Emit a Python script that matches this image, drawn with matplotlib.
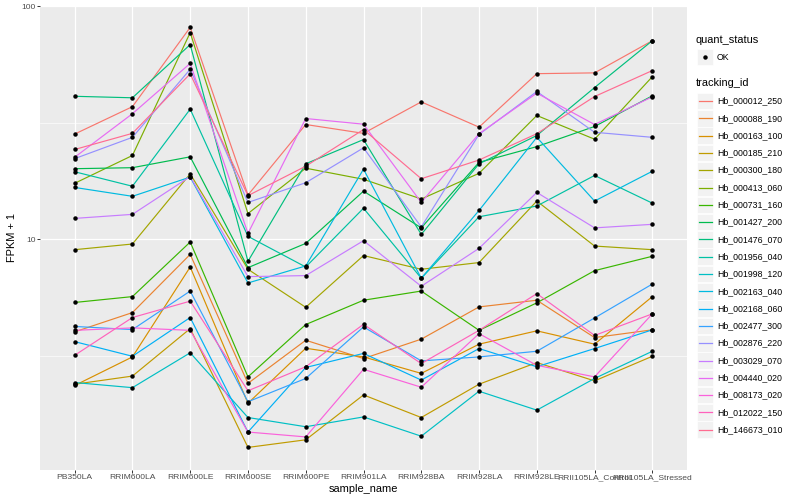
import matplotlib
matplotlib.use('Agg')
import matplotlib.pyplot as plt
from matplotlib.lines import Line2D
from matplotlib.patches import Rectangle
from matplotlib.ticker import FixedLocator, NullFormatter

plt.rcParams['font.family'] = ['Liberation Sans', 'DejaVu Sans']

# x categories
samples = ['PB350LA', 'RRIM600LA', 'RRIM600LE', 'RRIM600SE', 'RRIM600PE', 'RRIM901LA',
           'RRIM928BA', 'RRIM928LA', 'RRIM928LE', 'RRII105LA_Control', 'RRII105LA_Stressed']

tracking_ids = ['Hb_000012_250', 'Hb_000088_190', 'Hb_000163_100', 'Hb_000185_210',
                'Hb_000300_180', 'Hb_000413_060', 'Hb_000731_160', 'Hb_001427_200',
                'Hb_001476_070', 'Hb_001956_040', 'Hb_001998_120', 'Hb_002163_040',
                'Hb_002168_060', 'Hb_002477_300', 'Hb_002876_220', 'Hb_003029_070',
                'Hb_004440_020', 'Hb_008173_020', 'Hb_012022_150', 'Hb_146673_010']

# FPKM + 1 values, one list per tracking_id
hb_000012_250 = [28.3, 37.1, 81.2, 15.5, 31.1, 28.5, 38.9, 30.3, 51.4, 51.8, 71.2]
hb_000088_190 = [4.01, 4.85, 8.62, 2.41, 3.69, 3.08, 3.73, 5.13, 5.48, 3.79, 4.09]
hb_000163_100 = [2.36, 3.13, 7.61, 1.98, 3.41, 3.13, 2.66, 3.55, 4.05, 3.55, 5.68]
hb_000185_210 = [2.39, 2.59, 4.14, 1.28, 1.38, 2.15, 1.72, 2.39, 2.96, 2.47, 3.15]
hb_000300_180 = [9.03, 9.55, 19.1, 7.44, 5.11, 8.52, 7.44, 7.95, 14.6, 9.36, 9.03]
hb_000413_060 = [17.4, 22.9, 77.1, 12.9, 20.2, 18.1, 14.9, 19.2, 34.0, 26.9, 49.9]
hb_000731_160 = [5.36, 5.68, 9.74, 2.57, 4.31, 5.48, 6.00, 4.07, 5.34, 7.34, 8.46]
hb_001427_200 = [20.1, 20.3, 22.6, 7.56, 9.61, 16.1, 11.2, 21.4, 25.0, 30.5, 41.3]
hb_001476_070 = [41.1, 40.5, 68.5, 8.05, 21.1, 26.8, 10.5, 21.1, 27.9, 44.8, 71.2]
hb_001956_040 = [19.5, 16.9, 36.2, 10.3, 7.61, 13.6, 6.81, 12.5, 13.9, 18.8, 14.3]
hb_001998_120 = [2.43, 2.31, 3.26, 1.72, 1.57, 1.73, 1.43, 2.23, 1.85, 2.53, 3.31]
hb_002163_040 = [16.7, 15.3, 18.5, 6.50, 7.69, 20.0, 6.81, 13.3, 27.4, 14.6, 19.6]
hb_002168_060 = [3.64, 3.15, 4.62, 1.49, 2.82, 3.24, 2.49, 3.40, 2.84, 3.40, 4.09]
hb_002477_300 = [4.23, 4.10, 6.00, 2.01, 2.53, 4.21, 3.01, 3.13, 3.31, 4.60, 6.43]
hb_002876_220 = [22.2, 27.4, 53.7, 14.4, 17.5, 24.7, 11.3, 28.2, 43.1, 28.8, 27.4]
hb_003029_070 = [12.3, 12.8, 18.6, 6.92, 6.99, 9.87, 6.29, 9.15, 15.9, 11.2, 11.6]
hb_004440_020 = [22.5, 34.6, 56.9, 10.6, 33.0, 31.2, 14.4, 28.4, 42.4, 31.1, 40.9]
hb_008173_020 = [4.07, 4.17, 4.07, 1.49, 1.42, 2.77, 2.32, 3.94, 2.88, 2.57, 4.79]
hb_012022_150 = [3.18, 4.62, 5.43, 2.24, 2.84, 4.32, 2.93, 4.07, 5.85, 3.87, 4.79]
hb_146673_010 = [24.3, 28.5, 51.3, 15.4, 20.6, 29.6, 18.2, 21.9, 28.4, 41.0, 53.0]

series = [hb_000012_250, hb_000088_190, hb_000163_100, hb_000185_210, hb_000300_180,
          hb_000413_060, hb_000731_160, hb_001427_200, hb_001476_070, hb_001956_040,
          hb_001998_120, hb_002163_040, hb_002168_060, hb_002477_300, hb_002876_220,
          hb_003029_070, hb_004440_020, hb_008173_020, hb_012022_150, hb_146673_010]

# ggplot default hue palette for 20 levels
colors = ['#F8766D', '#EA8331', '#D89000', '#C09B00', '#A3A500', '#7CAE00', '#39B600',
          '#00BB4E', '#00BF7D', '#00C1A3', '#00BFC4', '#00BAE0', '#00B0F6', '#35A2FF',
          '#9590FF', '#C77CFF', '#E76BF3', '#FA62DB', '#FF62BC', '#FF6C91']

W, H = 800, 500
fig = plt.figure(figsize=(8, 5), dpi=100)
ax = fig.add_axes([40 / W, 30 / H, 647 / W, 464 / H])
ax.set_facecolor('#EBEBEB')

x = list(range(len(samples)))
for vals, col in zip(series, colors):
    ax.plot(x, vals, color=col, lw=0.85, zorder=3)
for vals in series:
    ax.plot(x, vals, ls='none', marker='o', ms=2.2, color='black', zorder=4)

ax.set_yscale('log')
ax.set_ylim(1.024, 100.3)
ax.set_xlim(-0.6, len(samples) - 0.4)
ax.set_yticks([10, 100])
ax.set_yticklabels(['10', '100'])
ax.yaxis.set_minor_locator(FixedLocator([10 ** 0.5, 10 ** 1.5]))
ax.yaxis.set_minor_formatter(NullFormatter())
ax.set_xticks(x)
ax.set_xticklabels(samples)

ax.grid(True, which='major', color='white', lw=0.9, zorder=0)
ax.grid(True, which='minor', axis='y', color='white', lw=0.45, zorder=0)
ax.set_axisbelow(True)
for s in ax.spines.values():
    s.set_visible(False)
ax.tick_params(which='major', length=2, width=0.7, color='#333333',
               labelsize=6.1, labelcolor='#4D4D4D', pad=1.2)
ax.tick_params(which='minor', length=0)

fig.text(363 / W, 1 - 489 / H, 'sample_name', fontsize=7.9, ha='center', va='center')
fig.text(12 / W, 1 - 238 / H, 'FPKM + 1', fontsize=7.9, ha='center', va='center',
         rotation=90)


def fy(y):
    return 1 - y / H


# legend: quant_status
fig.text(696 / W, fy(40), 'quant_status', fontsize=7.9, ha='left', va='center')
fig.add_artist(Rectangle((697 / W, fy(65)), 16 / W, 16 / H, transform=fig.transFigure,
                         facecolor='#F2F2F2', edgecolor='white', lw=0.5))
fig.add_artist(Line2D([705 / W], [fy(57)], transform=fig.transFigure, marker='o',
                      ms=2.2, color='black', ls='none'))
fig.text(717 / W, fy(57), 'OK', fontsize=6.3, ha='left', va='center')

# legend: tracking_id
fig.text(696 / W, fy(83), 'tracking_id', fontsize=7.9, ha='left', va='center')
for i, (name, col) in enumerate(zip(tracking_ids, colors)):
    yc = 101 + 17.3 * i
    fig.add_artist(Rectangle((697 / W, fy(yc + 8.3)), 16 / W, 16.6 / H,
                             transform=fig.transFigure, facecolor='#F2F2F2',
                             edgecolor='white', lw=0.5))
    fig.add_artist(Line2D([698.5 / W, 711.5 / W], [fy(yc), fy(yc)],
                          transform=fig.transFigure, color=col, lw=0.9))
    fig.text(717 / W, fy(yc), name, fontsize=6.3, ha='left', va='center')

fig.savefig('out.png', dpi=100)
